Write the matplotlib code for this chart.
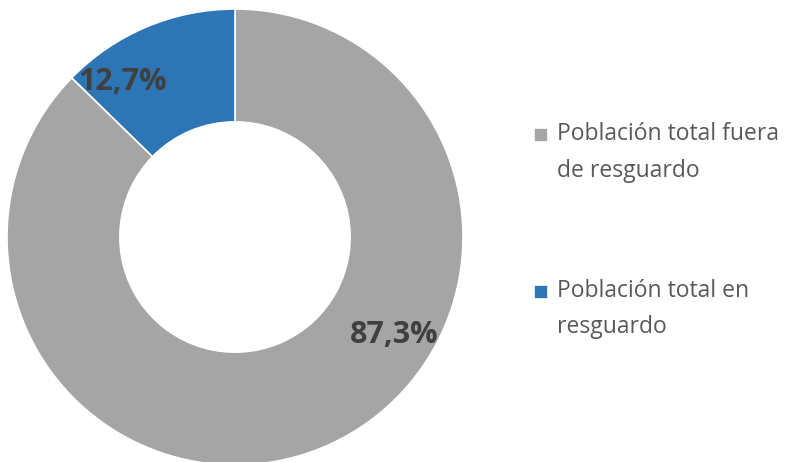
import matplotlib
matplotlib.use('Agg')
import matplotlib.pyplot as plt
from matplotlib.patches import Rectangle
from matplotlib.legend_handler import HandlerPatch

labels = ['Población total fuera\nde resguardo', 'Población total en\nresguardo']
values = [87.3, 12.7]
pct_text = ['87,3%', '12,7%']
colors = ['#A5A5A5', '#2E75B6']

plt.rcParams['font.family'] = ['Open Sans', 'DejaVu Sans']

fig = plt.figure(figsize=(7.87, 4.62), dpi=100)
ax = fig.add_axes([7 / 787, -3 / 462, 456 / 787, 456 / 462])

wedges, _ = ax.pie(values, colors=colors, startangle=90, counterclock=False,
                   radius=1.0, wedgeprops=dict(width=0.495, edgecolor='white', linewidth=1.2))
ax.set_xlim(-1, 1)
ax.set_ylim(-1, 1)
ax.set_aspect('equal')
ax.axis('off')

# label positions (Excel-style best fit)
ax.text(0.70, -0.43, pct_text[0], ha='center', va='center', fontsize=22,
        fontweight='bold', color='#404040')
ax.text(-0.495, 0.68, pct_text[1], ha='center', va='center', fontsize=22,
        fontweight='bold', color='#404040')


def square_on_first_line(legend, orig_handle, xdescent, ydescent, width, height, fontsize):
    # excel puts the marker next to the first text line, not the middle
    s = 10.0
    return Rectangle((-xdescent, -ydescent + height / 2 - s / 2 + 13.3), s, s)


leg = fig.legend(wedges, labels, loc='upper left', bbox_to_anchor=(0.6785, 0.736),
                 frameon=False, fontsize=16.5, handlelength=0.61, handleheight=0.61,
                 handletextpad=0.39, labelspacing=4.2, borderpad=0, borderaxespad=0,
                 labelcolor='#595959',
                 handler_map={w: HandlerPatch(patch_func=square_on_first_line) for w in wedges})
for t in leg.get_texts():
    t.set_linespacing(1.7)

fig.savefig('out.png', dpi=100)
